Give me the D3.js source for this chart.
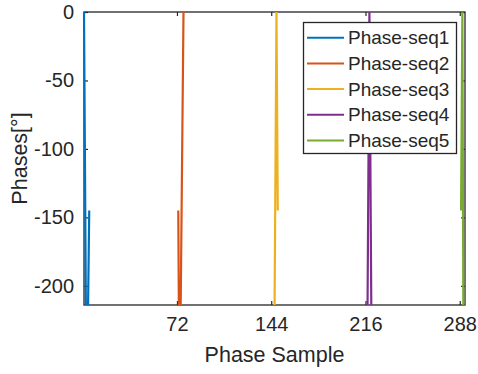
<!DOCTYPE html>
<html><head><meta charset="utf-8">
<script src="https://cdn.jsdelivr.net/npm/d3@7"></script>
<style>
body{margin:0;background:#fff;}
text{font-family:"Liberation Sans",Arial,Helvetica,sans-serif;fill:#262626;}
</style></head>
<body><svg id="c" width="478" height="374"></svg>
<script>
const seriesNames = ["Phase-seq1","Phase-seq2","Phase-seq3","Phase-seq4","Phase-seq5"];
const seq1X = [1, 3, 5],        seq1Y = [0, -300, -145];
const seq2X = [73, 74, 77],     seq2Y = [-145, -300, 0];
const seq3X = [146, 148, 149],  seq3Y = [-300, 0, -145];
const seq4X = [217, 219, 221],  seq4Y = [-300, 0, -300];
const seq5X = [289, 290, 291],  seq5Y = [-145, 0, -300];
const xTicks = [72, 144, 216, 288];
const yTicks = [0, -50, -100, -150, -200];
const xDomain = [1, 292];
const yDomain = [-214, 0];
const colors = ["#0072BD","#D95319","#EDB120","#7E2F8E","#77AC30"];

const allX = [seq1X, seq2X, seq3X, seq4X, seq5X];
const allY = [seq1Y, seq2Y, seq3Y, seq4Y, seq5Y];

const L = 84, R = 465, T = 12, B = 305;
const svg = d3.select("#c");
const x = d3.scaleLinear().domain(xDomain).range([L, R]);
const y = d3.scaleLinear().domain(yDomain).range([B, T]);

svg.append("defs").append("clipPath").attr("id","clip")
  .append("rect").attr("x",L-1.5).attr("y",T).attr("width",R-L+3).attr("height",B-T);

const tk = 4, fs = 20;
const fmt = v => String(v);
const ax = svg.append("g");
const bx = d3.axisBottom(x).tickValues(xTicks).tickSizeInner(-tk).tickSizeOuter(0).tickPadding(12).tickFormat(fmt);
ax.append("g").attr("transform",`translate(0,${B})`).call(bx);
const tx = d3.axisTop(x).tickValues(xTicks).tickSizeInner(-tk).tickSizeOuter(0).tickFormat("");
ax.append("g").attr("transform",`translate(0,${T})`).call(tx);
const ly = d3.axisLeft(y).tickValues(yTicks).tickSizeInner(-tk).tickSizeOuter(0).tickPadding(10).tickFormat(fmt);
ax.append("g").attr("transform",`translate(${L},0)`).call(ly);
const ry = d3.axisRight(y).tickValues(yTicks).tickSizeInner(-tk).tickSizeOuter(0).tickFormat("");
ax.append("g").attr("transform",`translate(${R},0)`).call(ry);
ax.selectAll(".domain").remove();
ax.selectAll(".tick line").attr("stroke","#262626").attr("stroke-width",1.2);
ax.selectAll(".tick text").attr("font-size",fs).attr("fill","#262626")
  .attr("font-family","Liberation Sans, Arial, sans-serif");
svg.append("rect").attr("x",L).attr("y",T).attr("width",R-L).attr("height",B-T)
  .attr("fill","none").attr("stroke","#262626").attr("stroke-width",1.3);

const line = d3.line().x(d=>x(d[0])).y(d=>y(d[1]));
const g = svg.append("g").attr("clip-path","url(#clip)");
allX.forEach((xs,i)=>{
  const pts = xs.map((v,j)=>[v, allY[i][j]]);
  g.append("path").datum(pts).attr("d",line)
    .attr("fill","none").attr("stroke",colors[i]).attr("stroke-width",2.2)
    .attr("stroke-linejoin","miter");
});

svg.append("text").attr("x",(L+R)/2).attr("y",362).attr("text-anchor","middle")
  .attr("font-size",21.5).text("Phase Sample");
svg.append("text").attr("transform",`translate(27,${(T+B)/2}) rotate(-90)`)
  .attr("text-anchor","middle").attr("font-size",21.5).text("Phases[°]");

const lg = svg.append("g");
lg.append("rect").attr("x",303.5).attr("y",22.5).attr("width",153).attr("height",131)
  .attr("fill","#fff").attr("stroke","#262626").attr("stroke-width",1.3);
seriesNames.forEach((n,i)=>{
  const yy = 37.7 + i*25.7;
  lg.append("line").attr("x1",307).attr("x2",344).attr("y1",yy).attr("y2",yy)
    .attr("stroke",colors[i]).attr("stroke-width",2);
  lg.append("text").attr("x",348).attr("y",yy).attr("dy","0.35em")
    .attr("font-size",19).text(n);
});
</script></body></html>
